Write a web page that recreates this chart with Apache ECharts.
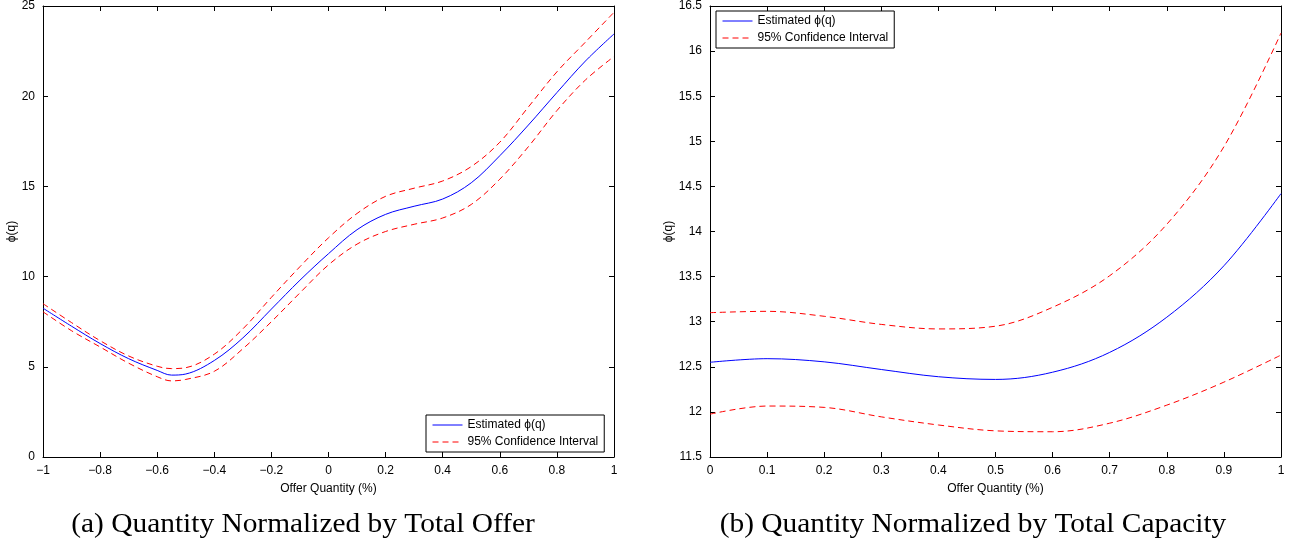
<!DOCTYPE html>
<html><head><meta charset="utf-8">
<script src="https://cdn.jsdelivr.net/npm/echarts@6/dist/echarts.min.js"></script>
<style>html,body{margin:0;padding:0;background:#fff}#c{width:1293px;height:548px}</style>
</head><body><div id="c"></div>
<script>
// Panel (a): Quantity Normalized by Total Offer
const xA = [-1,-0.9,-0.8,-0.7,-0.6,-0.55,-0.5,-0.4,-0.3,-0.2,-0.1,0,0.1,0.2,0.3,0.4,0.5,0.6,0.7,0.8,0.9,1.0];
const estA = [8.25,7.25,6.29,5.45,4.8,4.54,4.6,5.35,6.6,8.2,9.8,11.27,12.6,13.45,13.9,14.3,15.2,16.7,18.4,20.2,21.95,23.45];
const upA  = [8.5,7.45,6.45,5.6,5.03,4.9,4.95,5.7,7.1,8.85,10.55,12.15,13.5,14.45,14.9,15.3,16.1,17.45,19.4,21.35,23.0,24.65];
const loA  = [8.05,7.0,6.1,5.2,4.45,4.22,4.3,4.75,6.0,7.5,9.1,10.65,11.8,12.5,12.9,13.25,14.0,15.4,17.2,19.2,20.9,22.2];
// Panel (b): Quantity Normalized by Total Capacity
const xB = [0,0.1,0.2,0.3,0.4,0.5,0.6,0.7,0.8,0.9,1.0];
const estB = [12.55,12.59,12.555,12.47,12.39,12.36,12.44,12.66,13.05,13.62,14.42];
const upB  = [13.10,13.115,13.06,12.97,12.92,12.95,13.16,13.51,14.08,14.94,16.2];
const loB  = [11.975,12.065,12.05,11.945,11.855,11.79,11.78,11.875,12.075,12.33,12.63];

const nameEst = 'Estimated \u03d5(q)';
const nameCI = '95% Confidence Interval';
const xName = 'Offer Quantity (%)';
const yName = '\u03d5(q)';
const captionA = '(a) Quantity Normalized by Total Offer';
const captionB = '(b) Quantity Normalized by Total Capacity';

const font = 'Liberation Sans, Arial, sans-serif';
const pair = (xs, ys) => xs.map((x, i) => [x, ys[i]]);
const fmt = v => String(+v.toFixed(2)).replace('-', '\u2212');

function axisBase(extra) {
  return Object.assign({
    type: 'value',
    axisLine: { show: true, onZero: false, lineStyle: { color: '#000', width: 1 } },
    axisTick: { show: true, inside: true, length: 5, lineStyle: { color: '#000' } },
    splitLine: { show: false },
    axisLabel: { color: '#000', fontFamily: font, fontSize: 12, formatter: fmt },
    nameTextStyle: { color: '#000', fontFamily: font, fontSize: 12 }
  }, extra);
}
function hidden(extra) {
  const a = axisBase(extra);
  a.axisLabel = { show: false };
  return a;
}

const lineEst = (xs, ys, xi, yi) => ({
  name: nameEst, type: 'line', data: pair(xs, ys), xAxisIndex: xi, yAxisIndex: yi,
  showSymbol: false, symbol: 'none', smooth: 0.35, color: '#0000ff',
  lineStyle: { color: '#0000ff', width: 1 }, animation: false
});
const lineCI = (xs, ys, xi, yi) => ({
  name: nameCI, type: 'line', data: pair(xs, ys), xAxisIndex: xi, yAxisIndex: yi,
  showSymbol: false, symbol: 'none', smooth: 0.35, color: '#ff0000',
  lineStyle: { color: '#ff0000', width: 1, type: [6, 4] }, animation: false
});

const legendBase = {
  orient: 'vertical', borderColor: '#000', borderWidth: 1, backgroundColor: '#fff',
  padding: [4, 6, 4, 6], itemGap: 5, itemWidth: 30, itemHeight: 10,
  itemStyle: { opacity: 0 },
  lineStyle: { width: 1 },
  textStyle: { color: '#000', fontFamily: font, fontSize: 12 },
  data: [nameEst, nameCI]
};

const chart = echarts.init(document.getElementById('c'), null, { renderer: 'canvas' });
chart.setOption({
  backgroundColor: '#fff',
  animation: false,
  grid: [
    { left: 43, top: 5, width: 571, height: 452 },
    { left: 710, top: 5, width: 571, height: 452 }
  ],
  xAxis: [
    axisBase({ gridIndex: 0, min: -1, max: 1, interval: 0.2, position: 'bottom', name: xName, nameLocation: 'middle', nameGap: 26 }),
    axisBase({ gridIndex: 1, min: 0, max: 1, interval: 0.1, position: 'bottom', name: xName, nameLocation: 'middle', nameGap: 26 }),
    hidden({ gridIndex: 0, min: -1, max: 1, interval: 0.2, position: 'top' }),
    hidden({ gridIndex: 1, min: 0, max: 1, interval: 0.1, position: 'top' })
  ],
  yAxis: [
    axisBase({ gridIndex: 0, min: 0, max: 25, interval: 5, position: 'left', name: yName, nameLocation: 'middle', nameGap: 23 }),
    axisBase({ gridIndex: 1, min: 11.5, max: 16.5, interval: 0.5, position: 'left', name: yName, nameLocation: 'middle', nameGap: 33 }),
    hidden({ gridIndex: 0, min: 0, max: 25, interval: 5, position: 'right' }),
    hidden({ gridIndex: 1, min: 11.5, max: 16.5, interval: 0.5, position: 'right' })
  ],
  legend: [
    Object.assign({}, legendBase, { left: 426, top: 415 }),
    Object.assign({}, legendBase, { left: 716, top: 11 })
  ],
  series: [
    lineEst(xA, estA, 0, 0), lineCI(xA, upA, 0, 0), lineCI(xA, loA, 0, 0),
    lineEst(xB, estB, 1, 1), lineCI(xB, upB, 1, 1), lineCI(xB, loB, 1, 1)
  ],
  graphic: [
    { type: 'text', x: 303, y: 525, scaleX: 1.05, style: { text: captionA, fontFamily: 'Liberation Serif, serif', fontSize: 28, fill: '#000', x: 0, y: 0, align: 'center', verticalAlign: 'middle' } },
    { type: 'text', x: 973, y: 525, scaleX: 1.05, style: { text: captionB, fontFamily: 'Liberation Serif, serif', fontSize: 28, fill: '#000', x: 0, y: 0, align: 'center', verticalAlign: 'middle' } }
  ]
});
</script></body></html>
